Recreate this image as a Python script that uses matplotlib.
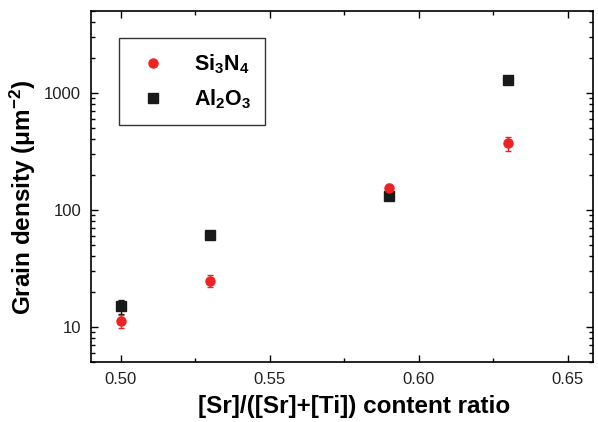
import matplotlib
matplotlib.use("Agg")
import matplotlib.pyplot as plt
from matplotlib.ticker import LogLocator, MultipleLocator, FixedLocator

plt.rcParams['font.family'] = ['Liberation Sans', 'DejaVu Sans']
plt.rcParams['mathtext.fontset'] = 'custom'
plt.rcParams['mathtext.rm'] = 'Liberation Sans'
plt.rcParams['mathtext.bf'] = 'Liberation Sans:bold'
plt.rcParams['mathtext.default'] = 'bf'

ratio = [0.50, 0.53, 0.59, 0.63]
si3n4 = [11.2, 24.8, 155, 370]
si3n4_err = [1.4, 3, 10, 50]
al2o3 = [15.0, 61, 130, 1290]
al2o3_err = [2, 4, 8, 110]

fig = plt.figure(figsize=(5.98, 4.22), dpi=100)
ax = fig.add_axes([0.152, 0.142, 0.8396, 0.832])

ax.errorbar(ratio, si3n4, yerr=si3n4_err, fmt='o', color='#ee2222', ms=6.5,
            capsize=2.5, elinewidth=1, capthick=1, label=r'Si$_3$N$_4$', zorder=3)
ax.errorbar(ratio, al2o3, yerr=al2o3_err, fmt='s', color='#1a1a1a', ms=7,
            capsize=2.5, elinewidth=1, capthick=1, label=r'Al$_2$O$_3$', zorder=2)

ax.set_yscale('log')
ax.set_xlim(0.49, 0.6584)
ax.set_ylim(5, 5000)
ax.xaxis.set_major_locator(FixedLocator([0.50, 0.55, 0.60, 0.65]))
ax.xaxis.set_minor_locator(MultipleLocator(0.025))
ax.set_xticklabels(['0.50', '0.55', '0.60', '0.65'])
ax.yaxis.set_major_locator(FixedLocator([10, 100, 1000]))
ax.set_yticklabels(['10', '100', '1000'])
ax.yaxis.set_minor_locator(LogLocator(base=10, subs=range(2, 10)))

ax.tick_params(which='both', direction='in', top=True, right=True, labelsize=12,
               width=1, labelcolor='#222222')
ax.tick_params(which='major', length=5, pad=7)
ax.tick_params(which='minor', length=3)
for s in ax.spines.values():
    s.set_linewidth(1.2)

ax.set_xlabel('[Sr]/([Sr]+[Ti]) content ratio', fontsize=17.5, fontweight='bold')
ax.set_ylabel(r'Grain density (μm$^{-2}$)', fontsize=17.5, fontweight='bold')
ax.xaxis.set_label_coords(0.524, -0.095)
ax.yaxis.set_label_coords(-0.106, 0.47)

handles, labels = ax.get_legend_handles_labels()
handles = [h[0] for h in handles]
leg = ax.legend(handles, labels, loc='upper left', bbox_to_anchor=(0.035, 0.953),
                fontsize=15.5, frameon=True, fancybox=False, edgecolor='black',
                borderpad=0.65, handletextpad=1.0, labelspacing=0.55, handlelength=1.8)
leg.get_frame().set_linewidth(1)
for t in leg.get_texts():
    t.set_fontweight('bold')

fig.savefig('out.png', dpi=100)
